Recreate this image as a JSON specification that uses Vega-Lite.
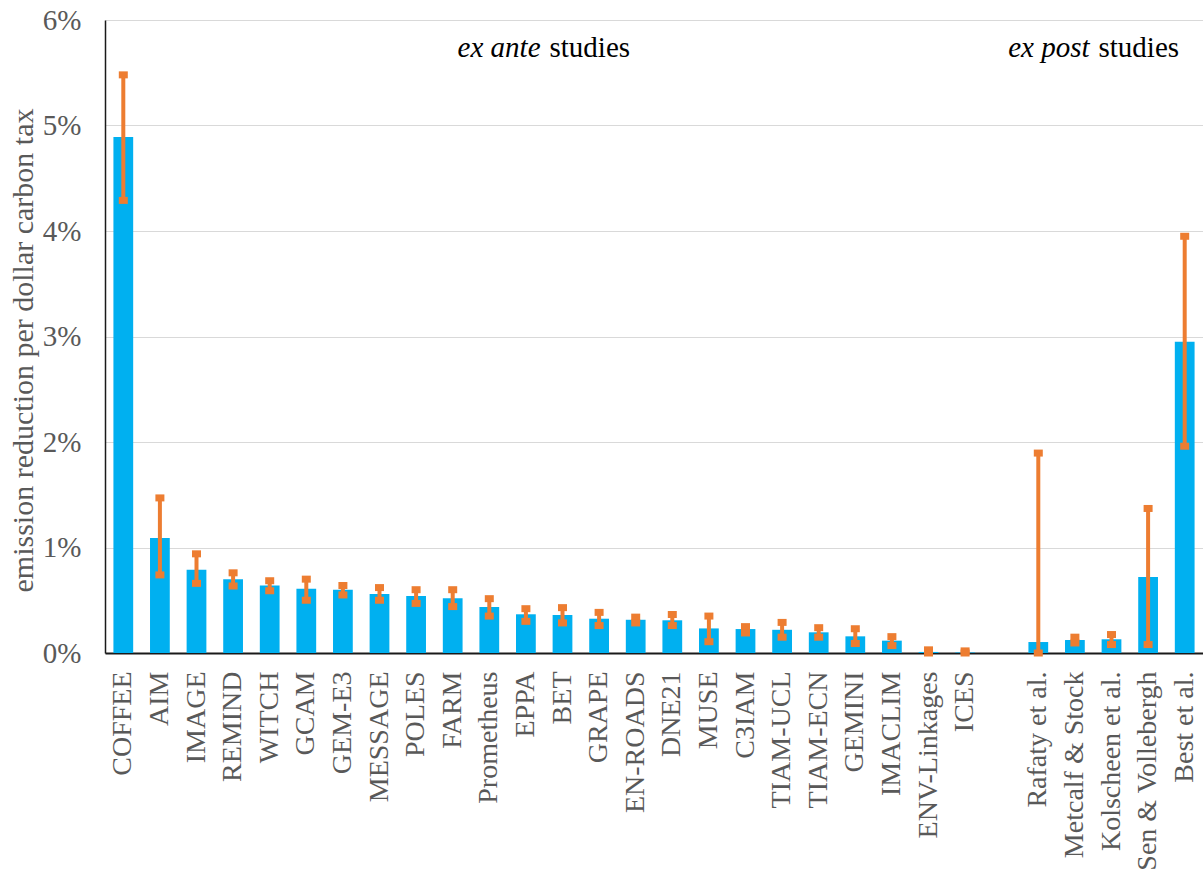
{
  "$schema": "https://vega.github.io/schema/vega-lite/v6.json",
  "autosize": {"type": "none"},
  "padding": {"left": 105, "top": 20, "right": 0, "bottom": 231},
  "width": 1098,
  "height": 633,
  "background": "white",
  "config": {
    "font": "Liberation Serif",
    "text": {"font": "Liberation Serif"},
    "view": {"stroke": null}
  },
  "datasets": {
    "models": [
      {"model": "COFFEE", "value": 0.0489, "lo": 0.0429, "hi": 0.0548},
      {"model": "AIM", "value": 0.0109, "lo": 0.0074, "hi": 0.0147},
      {"model": "IMAGE", "value": 0.0079, "lo": 0.0066, "hi": 0.0094},
      {"model": "REMIND", "value": 0.0070, "lo": 0.00635, "hi": 0.0076},
      {"model": "WITCH", "value": 0.0064, "lo": 0.0059, "hi": 0.00685},
      {"model": "GCAM", "value": 0.0061, "lo": 0.0050, "hi": 0.0070},
      {"model": "GEM-E3", "value": 0.0060, "lo": 0.0055, "hi": 0.0064},
      {"model": "MESSAGE", "value": 0.0056, "lo": 0.0050, "hi": 0.0062},
      {"model": "POLES", "value": 0.0054, "lo": 0.0047, "hi": 0.0060},
      {"model": "FARM", "value": 0.0052, "lo": 0.0044, "hi": 0.0060},
      {"model": "Prometheus", "value": 0.00436, "lo": 0.0035, "hi": 0.00515},
      {"model": "EPPA", "value": 0.00367, "lo": 0.0030, "hi": 0.0042},
      {"model": "BET", "value": 0.0036, "lo": 0.00285, "hi": 0.0043},
      {"model": "GRAPE", "value": 0.00325, "lo": 0.0026, "hi": 0.00385},
      {"model": "EN-ROADS", "value": 0.00315, "lo": 0.00285, "hi": 0.0034},
      {"model": "DNE21", "value": 0.0031, "lo": 0.0026, "hi": 0.00365},
      {"model": "MUSE", "value": 0.00233, "lo": 0.00107, "hi": 0.0035},
      {"model": "C3IAM", "value": 0.00227, "lo": 0.0019, "hi": 0.0025},
      {"model": "TIAM-UCL", "value": 0.0022, "lo": 0.0015, "hi": 0.0029},
      {"model": "TIAM-ECN", "value": 0.00196, "lo": 0.0015, "hi": 0.0024},
      {"model": "GEMINI", "value": 0.00158, "lo": 0.0009, "hi": 0.0023},
      {"model": "IMACLIM", "value": 0.00117, "lo": 0.0007, "hi": 0.00155},
      {"model": "ENV-Linkages", "value": 0.0001, "lo": 0.0, "hi": 0.0003},
      {"model": "ICES", "value": 0.00005, "lo": 0.0, "hi": 0.0002},
      {"model": "Rafaty et al.", "value": 0.00104, "lo": 0.0, "hi": 0.01895},
      {"model": "Metcalf & Stock", "value": 0.00123, "lo": 0.00095, "hi": 0.0015},
      {"model": "Kolscheen et al.", "value": 0.0013, "lo": 0.0008, "hi": 0.00175},
      {"model": "Sen & Vollebergh", "value": 0.0072, "lo": 0.0008, "hi": 0.0137},
      {"model": "Best et al.", "value": 0.0295, "lo": 0.0196, "hi": 0.0395}
    ],
    "notes": [
      {"model": "BET", "y": 0.0573, "italic": "ex ante", "plain": "studies"},
      {"model": "Kolscheen et al.", "y": 0.0573, "italic": "ex post", "plain": "studies"}
    ]
  },
  "encoding": {
    "x": {
      "field": "model",
      "type": "nominal",
      "sort": null,
      "scale": {
        "domain": ["COFFEE","AIM","IMAGE","REMIND","WITCH","GCAM","GEM-E3","MESSAGE","POLES","FARM","Prometheus","EPPA","BET","GRAPE","EN-ROADS","DNE21","MUSE","C3IAM","TIAM-UCL","TIAM-ECN","GEMINI","IMACLIM","ENV-Linkages","ICES"," ","Rafaty et al.","Metcalf & Stock","Kolscheen et al.","Sen & Vollebergh","Best et al."],
        "paddingInner": 0.46,
        "paddingOuter": 0.23
      },
      "axis": {
        "title": null,
        "labelAngle": -90,
        "labelAlign": "right",
        "labelBaseline": "middle",
        "labelFont": "Liberation Serif",
        "labelFontSize": 28,
        "labelLimit": 400,
        "labelColor": "#595959",
        "labelPadding": 18,
        "ticks": false,
        "domainColor": "#1a1a1a",
        "domainWidth": 2,
        "grid": false
      }
    }
  },
  "layer": [
    {
      "data": {"name": "models"},
      "mark": {"type": "bar", "color": "#00B0F0"},
      "encoding": {
        "y": {
          "field": "value",
          "type": "quantitative",
          "scale": {"domain": [0, 0.06], "nice": false},
          "axis": {
            "title": "emission reduction per dollar carbon tax",
            "titleFont": "Liberation Serif",
            "titleFontSize": 30,
            "titleFontWeight": "normal",
            "titleColor": "#595959",
            "titleAngle": -90,
            "titleX": -82,
            "titleY": 330,
            "titleAlign": "center",
            "titleBaseline": "middle",
            "values": [0, 0.01, 0.02, 0.03, 0.04, 0.05, 0.06],
            "format": ".0%",
            "labelFont": "Liberation Serif",
            "labelFontSize": 29,
            "labelColor": "#595959",
            "labelPadding": 24,
            "ticks": false,
            "domainColor": "#1a1a1a",
            "domainWidth": 1.5,
            "gridColor": "#D9D9D9",
            "gridWidth": 1.2
          }
        }
      }
    },
    {
      "data": {"name": "models"},
      "mark": {"type": "rule", "color": "#ED7D31", "strokeWidth": 4},
      "encoding": {
        "y": {"field": "lo", "type": "quantitative"},
        "y2": {"field": "hi"}
      }
    },
    {
      "data": {"name": "models"},
      "mark": {"type": "tick", "color": "#ED7D31", "size": 9, "thickness": 7, "orient": "horizontal", "opacity": 1},
      "encoding": {
        "y": {"field": "hi", "type": "quantitative"}
      }
    },
    {
      "data": {"name": "models"},
      "mark": {"type": "tick", "color": "#ED7D31", "size": 9, "thickness": 7, "orient": "horizontal", "opacity": 1},
      "encoding": {
        "y": {"field": "lo", "type": "quantitative"}
      }
    },
    {
      "data": {"name": "notes"},
      "mark": {"type": "text", "font": "Liberation Serif", "align": "right", "baseline": "middle", "fontSize": 29, "fontStyle": "italic", "color": "black", "dx": -22},
      "encoding": {
        "y": {"field": "y", "type": "quantitative"},
        "text": {"field": "italic"}
      }
    },
    {
      "data": {"name": "notes"},
      "mark": {"type": "text", "font": "Liberation Serif", "align": "left", "baseline": "middle", "fontSize": 29, "color": "black", "dx": -13},
      "encoding": {
        "y": {"field": "y", "type": "quantitative"},
        "text": {"field": "plain"}
      }
    }
  ]
}
